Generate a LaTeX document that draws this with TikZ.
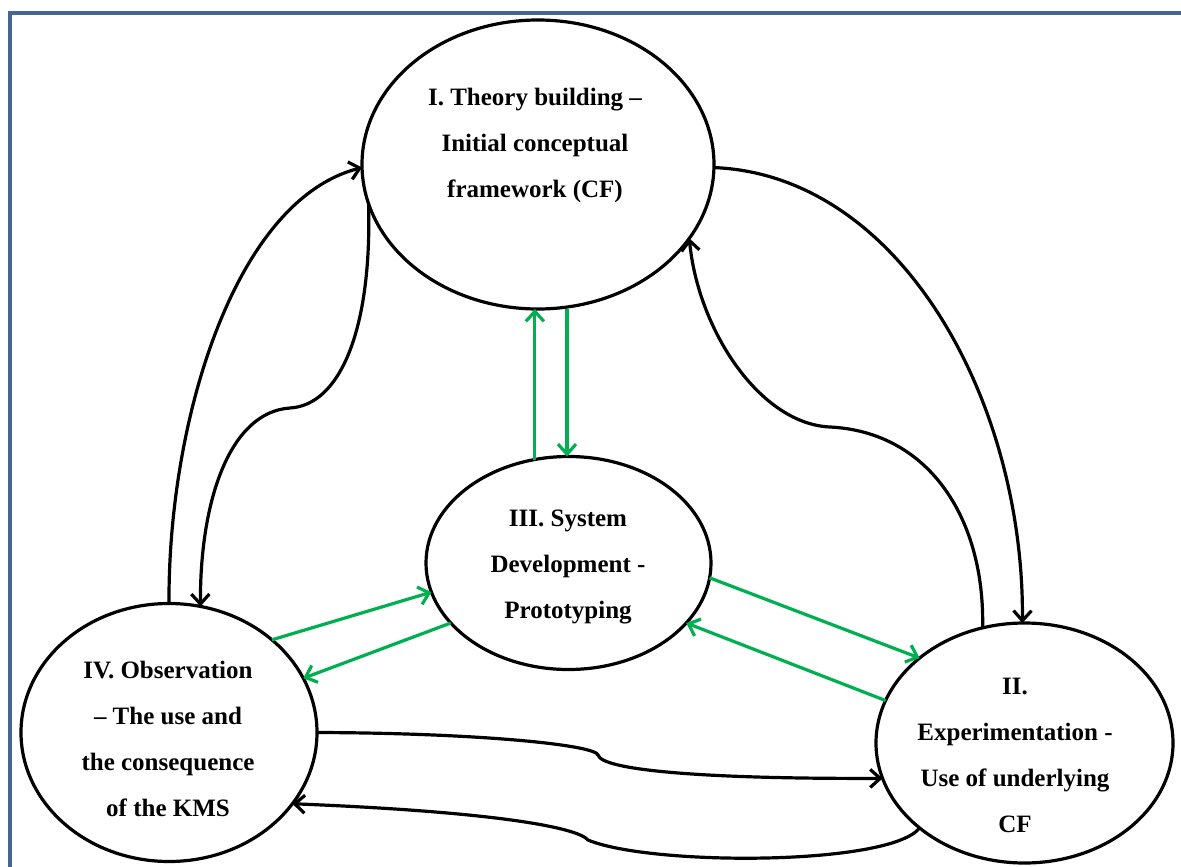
\documentclass[tikz,border=0pt]{standalone}
\usepackage{fontspec}
\setmainfont{Liberation Serif}
\usetikzlibrary{arrows.meta,shapes.geometric}
\definecolor{framecol}{RGB}{70,102,146}
\definecolor{grn}{RGB}{0,176,80}
\tikzset{
  bubble/.style={ellipse, draw=black, line width=3.2pt, inner sep=0pt, outer sep=0pt},
  lbl/.style={font=\fontsize{25}{46}\selectfont\bfseries, align=center, inner sep=0pt, anchor=base},
  conn/.style={line width=3.2pt, -{Straight Barb[length=10pt,width=18pt]}},
  blk/.style={conn, draw=black},
  gconn/.style={conn, draw=grn},
}
\begin{document}
\begin{tikzpicture}[x=1pt,y=1pt]
\useasboundingbox (0,0) rectangle (1181,-867);
\clip (0,0) rectangle (1181,-867);
\fill[white] (0,0) rectangle (1181,-867);
\draw[framecol, line width=4pt] (10,-13) rectangle (1250,-950);

\node[bubble, minimum width=352pt, minimum height=289pt] (I) at (538,-164.5) {};
\node[bubble, minimum width=297pt, minimum height=240pt] (II) at (1024.5,-743) {};
\node[bubble, minimum width=285pt, minimum height=213pt] (III) at (568.5,-563) {};
\node[bubble, minimum width=296pt, minimum height=258pt] (IV) at (169,-732.5) {};

\node[lbl] (tI) at (535,-197) {I. Theory building --\\Initial conceptual\\framework (CF)};
\node[lbl] (tIII) at (568,-618) {III. System\\Development -\\Prototyping};
\node[lbl] (tIV) at (168,-816) {IV. Observation\\-- The use and\\the consequence\\of the KMS};
\node[lbl] (tII) at (1015,-832) {II.\\Experimentation -\\Use of underlying\\CF};

% black connectors
\draw[blk] (IV.north) .. controls (168,-420) and (235,-200) .. (I.181);
\draw[blk] (I.193) .. controls (372,-330) and (340,-405) .. (290,-408)
  .. controls (230,-412) and (200,-500) .. (IV.76);
\draw[blk] (I.-1) .. controls (900,-175) and (1024,-400) .. (II.91);
\draw[blk] (II.110) .. controls (985,-520) and (930,-432) .. (830,-427)
  .. controls (760,-424) and (698,-330) .. (I.-26);
\draw[blk] (IV.east) .. controls (480,-733) and (595,-745) .. (598,-755)
  .. controls (602,-770) and (700,-779) .. (II.194);
\draw[blk] (II.219) .. controls (890,-866) and (650,-866) .. (588,-840)
  .. controls (578,-828) and (500,-812) .. (IV.-30);

% green connectors
\draw[gconn] (III.108) -- (III.108 |- I.south);
\draw[gconn] ([xshift=29pt]I.south) -- ([xshift=29pt]I.south |- III.north);
\draw[gconn] (IV.42) -- (III.192);
\draw[gconn] (III.207) -- (IV.22);
\draw[gconn] (III.-6) -- (II.141);
\draw[gconn] (II.163) -- (III.-27);
\end{tikzpicture}
\end{document}
